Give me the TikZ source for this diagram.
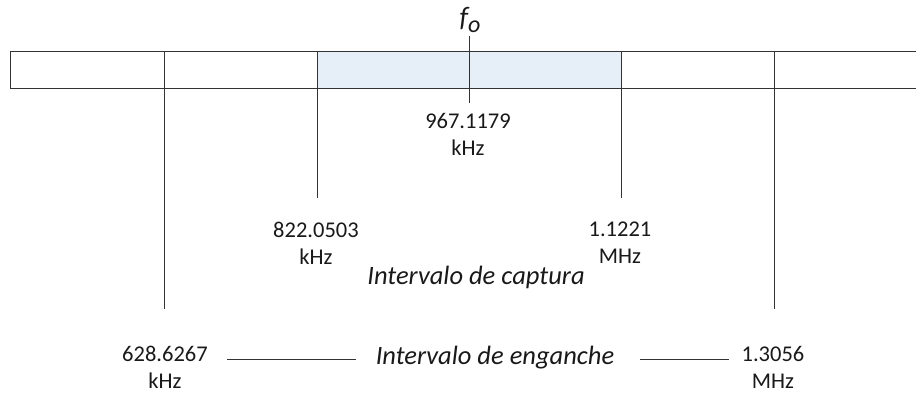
\documentclass[tikz,border=0pt]{standalone}
\usepackage{fontspec}
\setmainfont{Carlito}
\begin{document}
\begin{tikzpicture}[x=1pt,y=-1pt,
  lbl/.style={inner sep=0pt,font=\fontsize{22.5}{27}\selectfont,text=black!90,align=center},
  ilbl/.style={lbl,font=\fontsize{26.5}{30}\selectfont\itshape},
  barline/.style={draw=black!80,line width=1pt},
  tick/.style={draw=black!80,line width=1pt}]
\useasboundingbox (0,0) rectangle (916,392);
% band
\fill[fill={rgb,255:red,230;green,238;blue,248}] (317,51) rectangle (621,88);
\draw[barline] (916,51) -- (10,51) -- (10,88) -- (916,88);
% dividers / connectors
\coordinate (b1) at (164,51); \coordinate (e1) at (164,309);
\coordinate (b2) at (317,51); \coordinate (e2) at (317,198);
\coordinate (b4) at (621,51); \coordinate (e4) at (621,198);
\coordinate (b5) at (774,51); \coordinate (e5) at (774,309);
\coordinate (t3) at (469,36); \coordinate (e3) at (469,103);
\draw[tick] (b1) -- (e1);
\draw[tick] (b2) -- (e2);
\draw[tick] (b4) -- (e4);
\draw[tick] (b5) -- (e5);
\draw[tick] (t3) -- (e3);
% labels
\node[lbl,font=\fontsize{28}{30}\selectfont\itshape] (fo) at (470,20) {f\raisebox{-0.22em}{\fontsize{24}{24}\selectfont o}};
\node[lbl] (c) at (468,134) {967.1179\\kHz};
\node[lbl] (l) at (316,243) {822.0503\\kHz};
\node[lbl] (r) at (620,243) {1.1221\\MHz};
\node[ilbl] (cap) at (476,277) {Intervalo de captura};
\node[lbl] (ll) at (165,367) {628.6267\\kHz};
\node[lbl] (rr) at (773,367) {1.3056\\MHz};
\node[ilbl] (eng) at (495,358) {Intervalo de enganche};
\coordinate (s1a) at (227,359); \coordinate (s1b) at (356,359);
\coordinate (s2a) at (640,359); \coordinate (s2b) at (729,359);
\draw[tick] (s1a) -- (s1b);
\draw[tick] (s2a) -- (s2b);
\end{tikzpicture}
\end{document}
